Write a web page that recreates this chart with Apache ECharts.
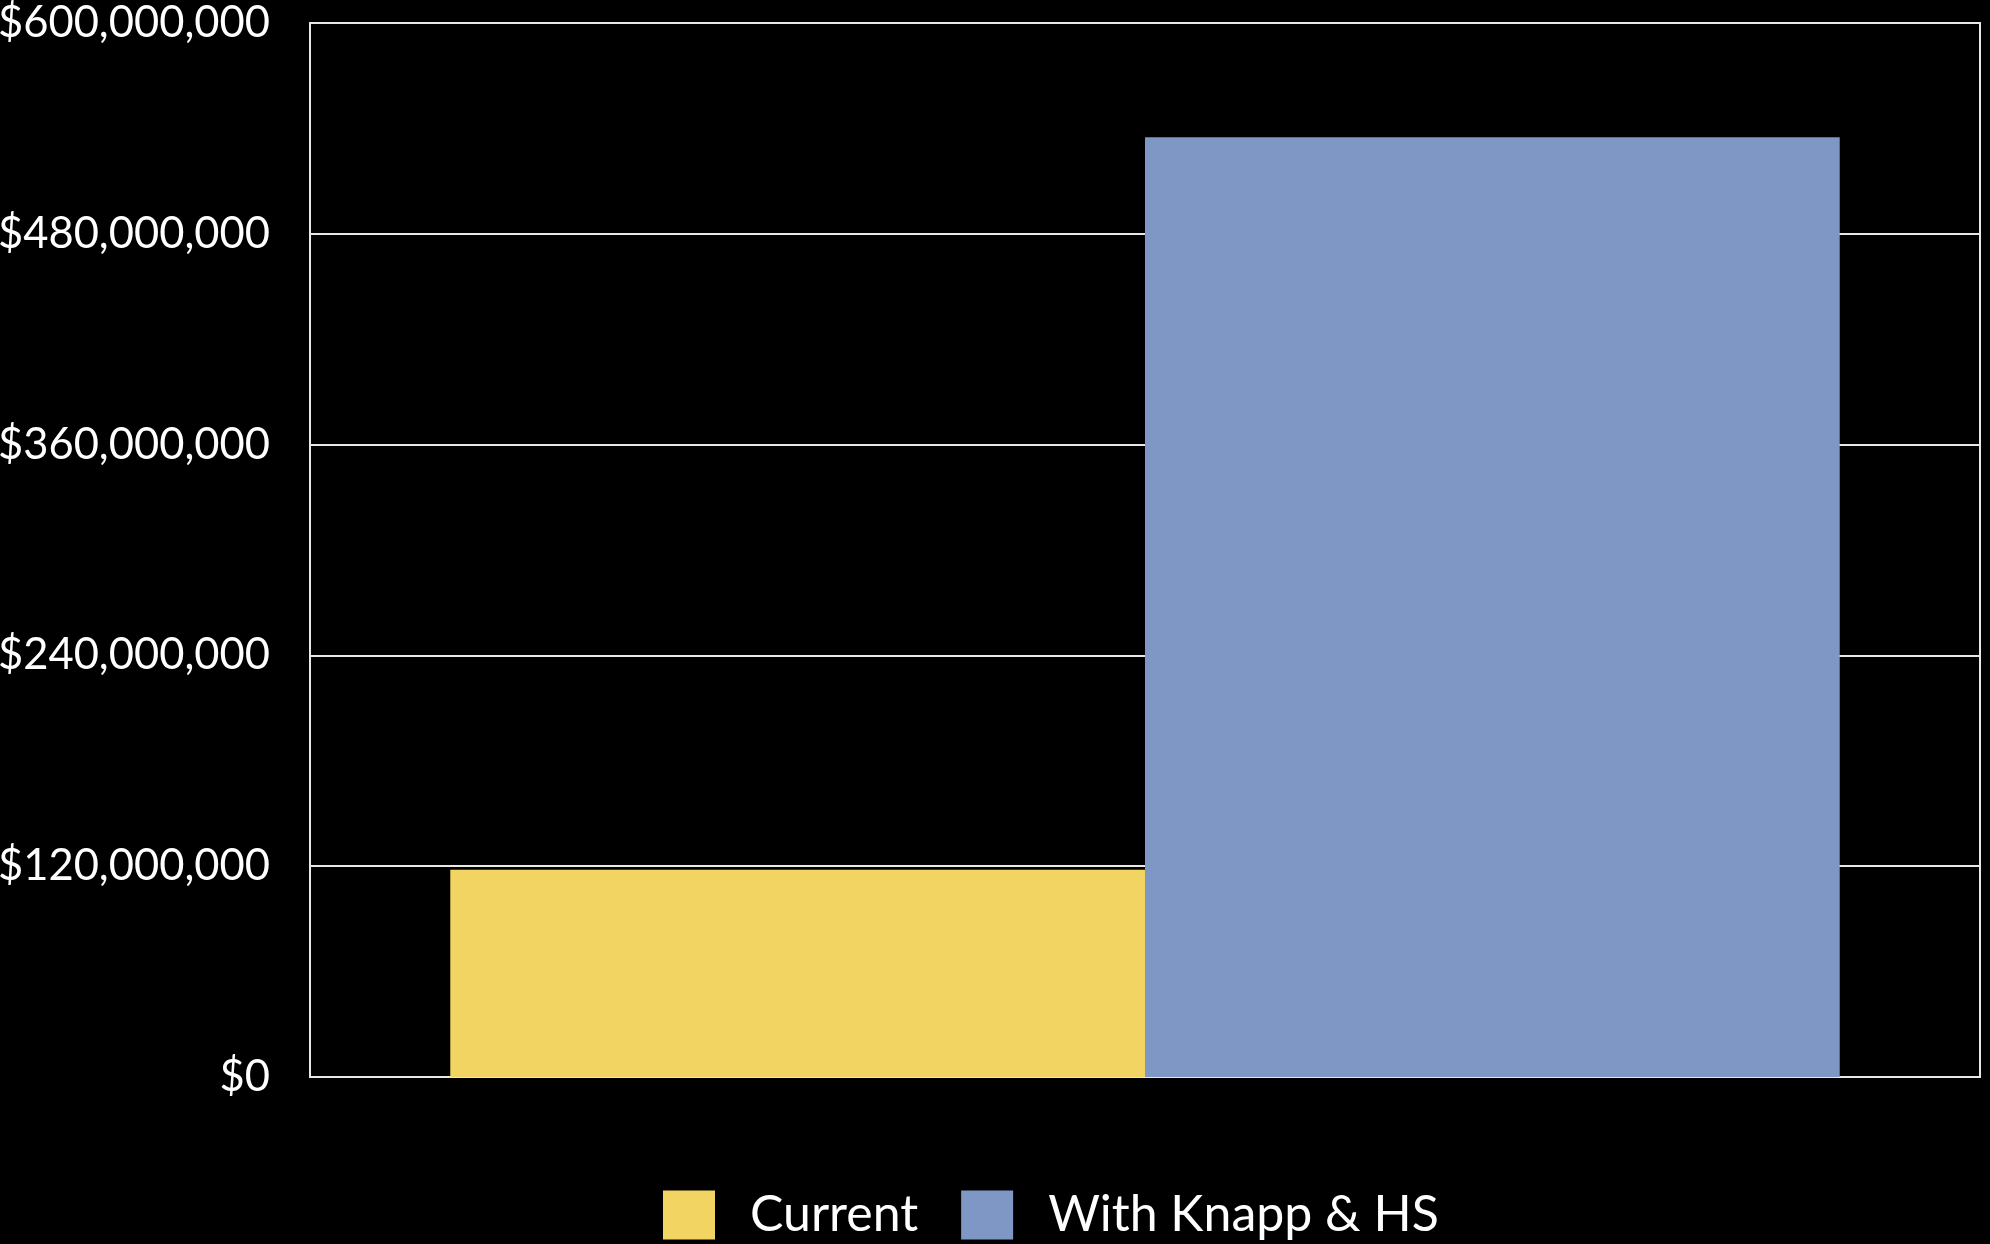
<!DOCTYPE html>
<html>
<head>
<meta charset="utf-8">
<script src="https://cdn.jsdelivr.net/npm/echarts@6/dist/echarts.min.js"></script>
<style>
html,body{margin:0;padding:0;background:#000;}
#chart{width:1990px;height:1244px;}
</style>
</head>
<body>
<div id="chart"></div>
<script>
const categories = ['Revenue'];
const seriesNames = ['Current', 'With Knapp & HS'];
const currentValues = [118000000];
const knappValues = [535000000];
const yTicks = [0, 120000000, 240000000, 360000000, 480000000, 600000000];

function fmt(v) {
  return '$' + Math.round(v).toString().replace(/\B(?=(\d{3})+(?!\d))/g, ',');
}

const chart = echarts.init(document.getElementById('chart'), null, {renderer: 'canvas'});
chart.setOption({
  backgroundColor: '#000000',
  animation: false,
  textStyle: {fontFamily: 'Lato'},
  grid: {
    left: 310, right: 10, top: 23, bottom: 167,
    containLabel: false, outerBoundsMode: 'none',
    show: true, borderColor: '#e8e8e8', borderWidth: 2, backgroundColor: 'transparent'
  },
  legend: {
    left: 658, top: 1185,
    itemWidth: 52, itemHeight: 49, itemGap: 43,
    icon: 'rect',
    textStyle: {color: '#ffffff', fontSize: 50, fontFamily: 'Lato', padding: [0, 0, 0, 30]},
    data: seriesNames
  },
  xAxis: {
    type: 'category',
    data: categories,
    axisLine: {show: false},
    axisTick: {show: false},
    axisLabel: {show: false},
    splitLine: {show: false}
  },
  yAxis: {
    type: 'value',
    min: yTicks[0],
    max: yTicks[yTicks.length - 1],
    interval: yTicks[1] - yTicks[0],
    axisLine: {show: false},
    axisTick: {show: false},
    axisLabel: {
      color: '#ffffff', fontSize: 43.5, fontFamily: 'Lato', margin: 40,
      formatter: fmt, verticalAlign: 'middle', padding: [8, 0, 0, 0]
    },
    splitLine: {show: true, lineStyle: {color: '#e8e8e8', width: 2}}
  },
  series: [
    {
      name: seriesNames[0], type: 'bar', data: currentValues,
      barGap: '0%', barCategoryGap: '16.8%',
      itemStyle: {color: '#F1D462'}
    },
    {
      name: seriesNames[1], type: 'bar', data: knappValues,
      barGap: '0%', barCategoryGap: '16.8%',
      itemStyle: {color: '#7F97C4'}
    }
  ]
});
</script>
</body>
</html>
